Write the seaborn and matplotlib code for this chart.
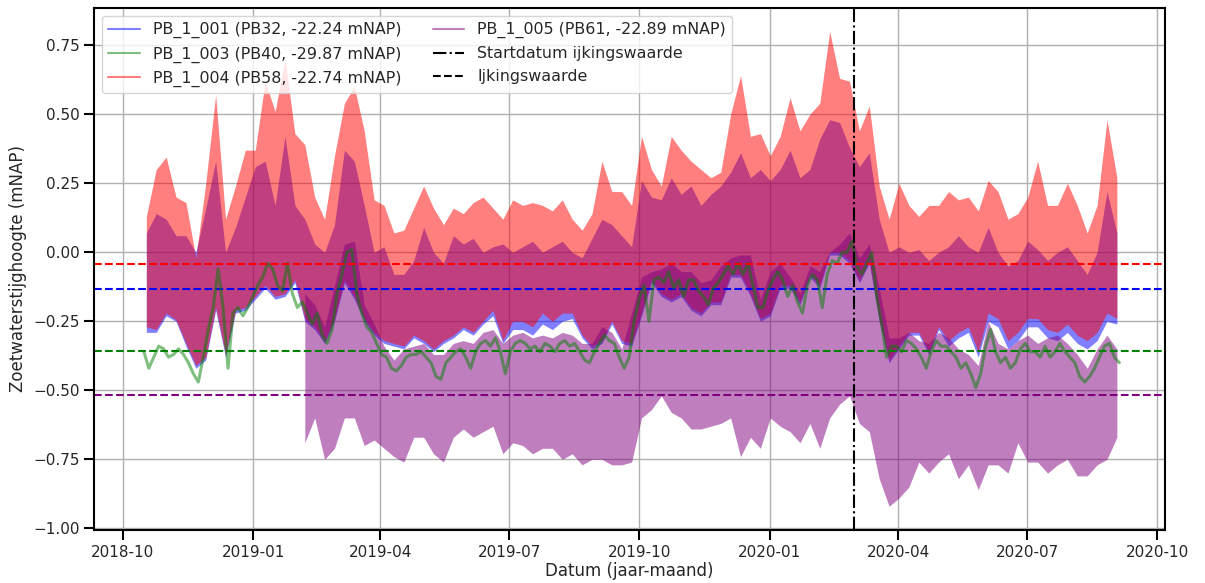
import numpy as np
import pandas as pd
import matplotlib
matplotlib.use("Agg")
import matplotlib.pyplot as plt
import matplotlib.dates as mdates
from matplotlib.lines import Line2D
import seaborn as sns

# ---------------- data (weekly envelopes) ----------------
week_dates = pd.date_range("2018-10-17 12:00", periods=99, freq="7D")
purple_dates = week_dates[16:]
green_dates = pd.date_range("2018-10-15 18:00", periods=198, freq="84h")

red_hi = [0.13, 0.30, 0.345, 0.20, 0.18, -0.02, 0.25, 0.57, 0.12, 0.24, 0.37, 0.37, 0.62, 0.51, 0.70, 0.43,
          0.39, 0.20, 0.12, 0.35, 0.54, 0.60, 0.44, 0.19, 0.17, 0.07, 0.08, 0.16, 0.24, 0.16, 0.10, 0.16,
          0.14, 0.18, 0.20, 0.16, 0.12, 0.19, 0.17, 0.18, 0.17, 0.15, 0.19, 0.12, 0.08, 0.14, 0.33, 0.22,
          0.22, 0.17, 0.42, 0.30, 0.24, 0.42, 0.37, 0.33, 0.30, 0.27, 0.29, 0.50, 0.64, 0.42, 0.43, 0.35, 0.42,
          0.56, 0.44, 0.50, 0.54, 0.80, 0.63, 0.62, 0.44, 0.53, 0.24, 0.12, 0.25, 0.17, 0.13, 0.17, 0.17,
          0.22, 0.19, 0.20, 0.15, 0.26, 0.22, 0.12, 0.14, 0.20, 0.33, 0.17, 0.17, 0.25, 0.17, 0.07, 0.17, 0.48, 0.27]
red_lo = [-0.27, -0.28, -0.22, -0.245, -0.33, -0.41, -0.38, -0.20, -0.37, -0.21, -0.20, -0.16, -0.12, -0.16, -0.15, -0.10,
          -0.24, -0.27, -0.32, -0.24, -0.10, -0.16, -0.24, -0.29, -0.32, -0.33, -0.34, -0.30, -0.32, -0.35, -0.32, -0.30,
          -0.27, -0.29, -0.25, -0.21, -0.32, -0.25, -0.25, -0.27, -0.22, -0.25, -0.22, -0.22, -0.30, -0.34, -0.32, -0.25,
          -0.32, -0.33, -0.22, -0.10, -0.15, -0.17, -0.15, -0.20, -0.22, -0.18, -0.18, -0.08, -0.08, -0.15, -0.24, -0.22, -0.12,
          -0.12, -0.18, -0.08, -0.12, 0.00, 0.00, -0.03, -0.10, -0.03, -0.24, -0.39, -0.34, -0.29, -0.29, -0.36, -0.27,
          -0.32, -0.29, -0.27, -0.36, -0.22, -0.24, -0.32, -0.29, -0.24, -0.24, -0.28, -0.29, -0.26, -0.30, -0.32, -0.29, -0.22, -0.24]
blue_hi = [0.07, 0.14, 0.12, 0.06, 0.06, 0.00, 0.16, 0.33, 0.00, 0.09, 0.20, 0.31, 0.33, 0.17, 0.42, 0.17,
           0.12, 0.03, 0.00, 0.10, 0.37, 0.33, 0.17, 0.00, 0.02, -0.08, -0.08, -0.03, 0.09, 0.00, -0.04, 0.06,
           0.03, 0.05, 0.00, 0.02, 0.03, 0.00, 0.02, 0.04, 0.00, 0.02, 0.04, 0.00, -0.02, 0.05, 0.12, 0.10,
           0.06, 0.02, 0.26, 0.20, 0.19, 0.27, 0.21, 0.24, 0.17, 0.21, 0.24, 0.29, 0.36, 0.27, 0.30, 0.26, 0.30,
           0.37, 0.27, 0.30, 0.41, 0.48, 0.47, 0.38, 0.31, 0.36, 0.12, 0.00, 0.02, 0.00, 0.01, -0.03, 0.00,
           0.02, 0.06, 0.02, 0.00, 0.09, 0.00, -0.05, -0.03, 0.04, 0.01, -0.03, 0.00, 0.02, -0.03, -0.08, 0.00, 0.22, 0.07]
blue_lo = [-0.29, -0.29, -0.23, -0.25, -0.34, -0.42, -0.39, -0.21, -0.38, -0.22, -0.21, -0.17, -0.13, -0.17, -0.16, -0.11,
           -0.25, -0.28, -0.33, -0.25, -0.11, -0.17, -0.25, -0.30, -0.33, -0.34, -0.35, -0.31, -0.33, -0.36, -0.33, -0.31,
           -0.28, -0.30, -0.26, -0.23, -0.33, -0.28, -0.28, -0.30, -0.26, -0.28, -0.25, -0.24, -0.31, -0.35, -0.33, -0.26,
           -0.33, -0.34, -0.23, -0.11, -0.16, -0.18, -0.16, -0.21, -0.23, -0.19, -0.19, -0.09, -0.09, -0.16, -0.25, -0.23, -0.13,
           -0.13, -0.19, -0.09, -0.13, -0.01, -0.01, -0.04, -0.11, -0.04, -0.25, -0.40, -0.35, -0.30, -0.30, -0.37, -0.28,
           -0.34, -0.31, -0.29, -0.38, -0.25, -0.27, -0.35, -0.32, -0.27, -0.27, -0.31, -0.32, -0.29, -0.33, -0.35, -0.32, -0.25, -0.26]
purple_hi = [-0.15, -0.19, -0.27, -0.12, 0.03, 0.04, -0.19, -0.26, -0.34, -0.39, -0.35, -0.34, -0.33, -0.37, -0.37, -0.33,
             -0.32, -0.33, -0.29, -0.28, -0.33, -0.30, -0.29, -0.31, -0.30, -0.31, -0.29, -0.30, -0.33, -0.33, -0.27, -0.29,
             -0.35, -0.22, -0.09, -0.07, -0.06, -0.04, -0.07, -0.07, -0.11, -0.10, -0.05, -0.02, -0.01, -0.01, -0.17, -0.07, -0.04,
             -0.09, -0.15, -0.05, -0.07, 0.00, 0.03, 0.07, -0.02, 0.03, -0.13, -0.31, -0.31, -0.29, -0.32, -0.33, -0.29,
             -0.31, -0.35, -0.37, -0.41, -0.25, -0.33, -0.35, -0.32, -0.30, -0.33, -0.31, -0.30, -0.33, -0.37, -0.42, -0.35, -0.30, -0.35]
purple_lo = [-0.69, -0.60, -0.75, -0.71, -0.60, -0.60, -0.70, -0.68, -0.71, -0.74, -0.76, -0.67, -0.67, -0.73, -0.76, -0.67,
             -0.64, -0.67, -0.65, -0.63, -0.73, -0.69, -0.70, -0.73, -0.71, -0.71, -0.75, -0.73, -0.77, -0.75, -0.75, -0.77,
             -0.77, -0.76, -0.60, -0.57, -0.52, -0.58, -0.60, -0.64, -0.64, -0.63, -0.62, -0.60, -0.74, -0.67, -0.71, -0.60, -0.63,
             -0.65, -0.69, -0.62, -0.71, -0.60, -0.55, -0.52, -0.62, -0.65, -0.82, -0.92, -0.89, -0.85, -0.76, -0.80, -0.76,
             -0.73, -0.82, -0.77, -0.86, -0.77, -0.77, -0.80, -0.69, -0.76, -0.76, -0.80, -0.77, -0.75, -0.81, -0.81, -0.77, -0.75, -0.67]
green_vals = [-0.36, -0.42, -0.38, -0.34, -0.35, -0.38, -0.37, -0.35, -0.37, -0.40, -0.44, -0.47, -0.38, -0.28, -0.20, -0.06,
              -0.20, -0.42, -0.22, -0.20, -0.23, -0.20, -0.16, -0.12, -0.09, -0.04, -0.06, -0.12, -0.14, -0.04, -0.15, -0.20,
              -0.18, -0.22, -0.26, -0.22, -0.30, -0.33, -0.28, -0.15, -0.08, 0.00, 0.01, -0.15, -0.22, -0.27, -0.29, -0.33,
              -0.37, -0.38, -0.42, -0.43, -0.41, -0.38, -0.37, -0.37, -0.36, -0.38, -0.40, -0.45, -0.46, -0.40, -0.38, -0.36,
              -0.35, -0.38, -0.42, -0.36, -0.33, -0.32, -0.34, -0.31, -0.36, -0.44, -0.36, -0.33, -0.32, -0.33, -0.35, -0.34,
              -0.36, -0.33, -0.34, -0.36, -0.33, -0.32, -0.34, -0.33, -0.36, -0.39, -0.40, -0.36, -0.33, -0.30, -0.32, -0.33,
              -0.38, -0.42, -0.38, -0.25, -0.17, -0.12, -0.25, -0.10, -0.09, -0.11, -0.07, -0.13, -0.10, -0.16, -0.10, -0.10,
              -0.14, -0.16, -0.19, -0.13, -0.11, -0.08, -0.05, -0.08, -0.04, -0.08, -0.04, -0.12, -0.20, -0.20, -0.14, -0.10,
              -0.07, -0.10,
              -0.16, -0.12, -0.18, -0.22, -0.12, -0.08, -0.10, -0.20, -0.08, -0.03, -0.04, 0.00, 0.00, 0.04, -0.05, -0.08,
              -0.04, 0.00, -0.16, -0.26, -0.38, -0.34, -0.34, -0.36, -0.32, -0.33, -0.35, -0.38, -0.42, -0.36, -0.32, -0.34,
              -0.34, -0.36, -0.38, -0.42, -0.40, -0.44, -0.49, -0.44, -0.34, -0.28, -0.36, -0.40, -0.38, -0.42, -0.40, -0.35,
              -0.33, -0.36, -0.36, -0.38, -0.34, -0.38, -0.36, -0.33, -0.36, -0.38, -0.40, -0.45, -0.47, -0.45, -0.42, -0.38,
              -0.34, -0.33, -0.38, -0.40]

labels = ["PB_1_001 (PB32, -22.24 mNAP)", "PB_1_003 (PB40, -29.87 mNAP)",
          "PB_1_004 (PB58, -22.74 mNAP)", "PB_1_005 (PB61, -22.89 mNAP)"]
ijking = [-0.133, -0.356, -0.042, -0.516]   # blue, green, red, purple
start_ijking = "2020-03-01"

# ---------------- figure ----------------
sns.set_style("ticks")
plt.rcParams["font.family"] = ["DejaVu Sans"]
fig, ax = plt.subplots(figsize=(12.05, 5.83), dpi=100)
fig.subplots_adjust(left=0.078, right=0.9668, top=0.9863, bottom=0.0909)
ax.grid(True, color="#b0b0b0", linewidth=1.0)
ax.set_axisbelow(True)


def band(dates, hi, lo, color):
    df = pd.DataFrame({"date": list(dates) * 2, "value": list(hi) + list(lo)})
    sns.lineplot(data=df, x="date", y="value", errorbar=("pi", 100), color=color,
                 linewidth=0, err_kws={"alpha": 0.5, "linewidth": 0}, ax=ax)


band(week_dates, blue_hi, blue_lo, "blue")
ax.axhline(ijking[0], color="blue", linestyle="--", linewidth=1.5)
sns.lineplot(x=green_dates, y=green_vals, color="green", alpha=0.5, linewidth=2.2, ax=ax)
ax.axhline(ijking[1], color="green", linestyle="--", linewidth=1.5)
band(week_dates, red_hi, red_lo, "red")
ax.axhline(ijking[2], color="red", linestyle="--", linewidth=1.5)
band(purple_dates, purple_hi, purple_lo, "purple")
ax.axhline(ijking[3], color="purple", linestyle="--", linewidth=1.5)
ax.axvline(pd.Timestamp(start_ijking), color="black", linestyle="-.", linewidth=1.5)

ax.set_xlim(pd.Timestamp("2018-09-10 12:00"), pd.Timestamp("2020-10-06 12:00"))
ax.set_ylim(-1.006, 0.885)
ax.set_yticks(np.arange(-1.0, 0.76, 0.25))
ax.xaxis.set_major_locator(mdates.MonthLocator(bymonth=[1, 4, 7, 10]))
ax.xaxis.set_major_formatter(mdates.DateFormatter("%Y-%m"))
ax.tick_params(axis="both", which="major", labelsize=11, length=7, width=1.5, color="black")
for s in ax.spines.values():
    s.set_visible(True)
    s.set_color("black")
    s.set_linewidth(1.5)
ax.set_xlabel("Datum (jaar-maand)", fontsize=12, labelpad=2)
ax.set_ylabel("Zoetwaterstijghoogte (mNAP)", fontsize=12)

handles = [Line2D([], [], color="blue", alpha=0.5, lw=1.5),
           Line2D([], [], color="green", alpha=0.5, lw=1.5),
           Line2D([], [], color="red", alpha=0.5, lw=1.5),
           Line2D([], [], color="purple", alpha=0.5, lw=1.5),
           Line2D([], [], color="black", linestyle="-.", lw=1.5),
           Line2D([], [], color="black", linestyle="--", lw=1.5)]
leg_labels = labels + ["Startdatum ijkingswaarde", "Ijkingswaarde"]
ax.legend(handles, leg_labels, loc="upper left", ncol=2, fontsize=11.4, frameon=True)

fig.savefig("out.png", dpi=100)
